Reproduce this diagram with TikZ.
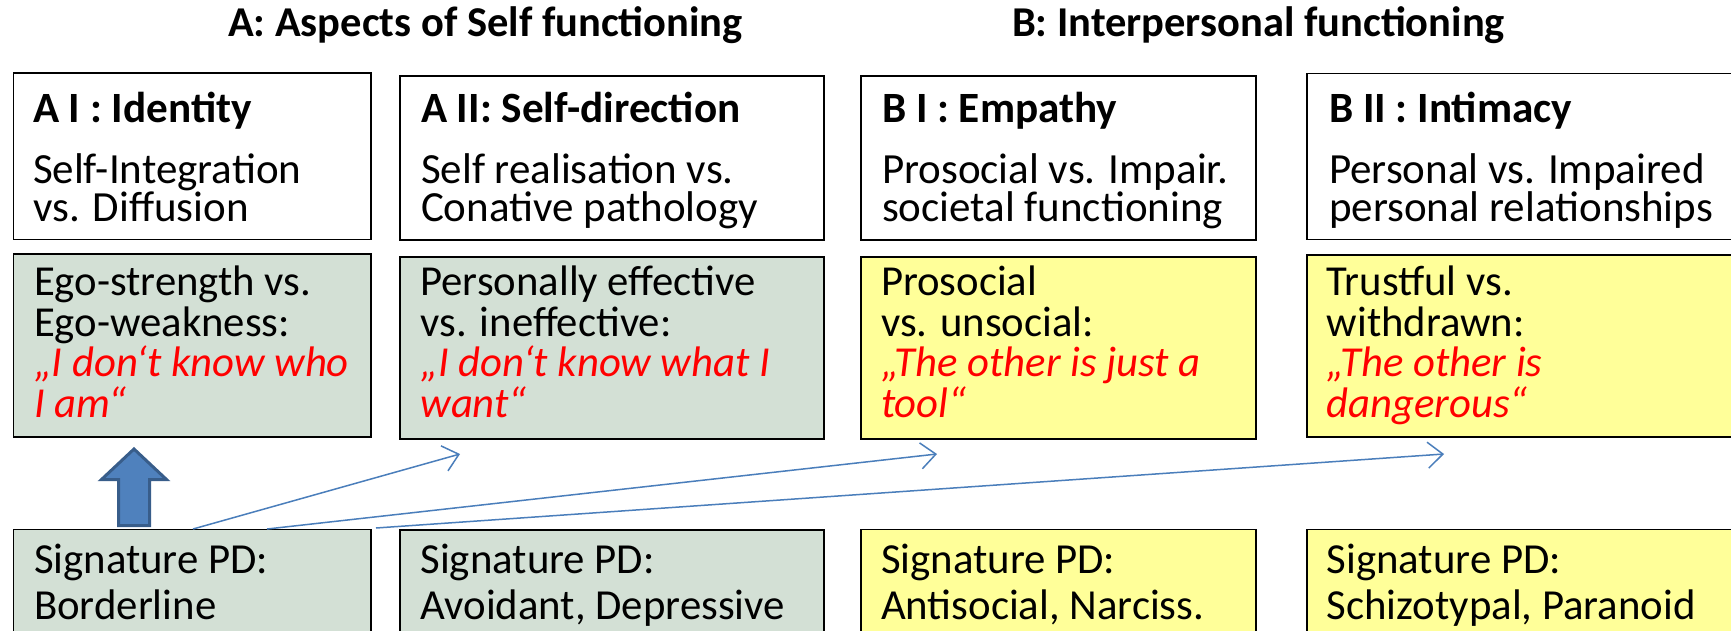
\documentclass[tikz,border=0pt]{standalone}
\usepackage{fontspec}
\setmainfont{Carlito}
\usetikzlibrary{arrows.meta}
\definecolor{boxgreen}{HTML}{D3E0D5}
\definecolor{boxyellow}{HTML}{FFFF99}
\definecolor{arrowfill}{HTML}{4F81BD}
\definecolor{arrowline}{HTML}{385D8A}
\definecolor{thinblue}{HTML}{4A7EBB}
\definecolor{quotered}{HTML}{FF0000}
\tikzset{
  box/.style={draw=black, line width=1.6, anchor=north west, inner sep=0, outer sep=0},
  whitebox/.style={box, fill=white},
  greenbox/.style={box, fill=boxgreen},
  yellowbox/.style={box, fill=boxyellow},
  txt/.style={anchor=base west, inner sep=0, outer sep=0},
  titletxt/.style={anchor=base, inner sep=0, font=\fontsize{42.5}{46}\selectfont\bfseries},
  headtxt/.style={txt, font=\fontsize{43.2}{46}\selectfont\bfseries},
  subtxt/.style={txt, font=\fontsize{43}{46}\selectfont},
  midtxt/.style={txt, font=\fontsize{42.7}{46}\selectfont},
  redtxt/.style={txt, font=\fontsize{42.7}{46}\selectfont\itshape, text=quotered},
  sigtxt/.style={txt, font=\fontsize{42.8}{46}\selectfont},
  thinarrow/.style={draw=thinblue, line width=1.5, -{Straight Barb[length=15,width=26,line width=1.5]}},
  bigarrow/.style={draw=arrowline, fill=arrowfill, line width=3, line join=miter}
}
\begin{document}
\begin{tikzpicture}[x=1pt,y=-1pt]
\path[use as bounding box, fill=white] (0,0) rectangle (1731,630);
\begin{scope}
\clip (0,0) rectangle (1731,630);
% titles
\node[titletxt] (ta) at (485.5,36.7) {A: Aspects of Self functioning};
\node[titletxt] (tb) at (1258.5,36.7) {B: Interpersonal functioning};
% row 1
\node[whitebox, minimum width=357.5, minimum height=166.5] (r1a1) at (13.5,73) {};
\node[whitebox, minimum width=424, minimum height=164] (r1a2) at (400,76) {};
\node[whitebox, minimum width=395, minimum height=164] (r1b1) at (861,76) {};
\node[whitebox, minimum width=450, minimum height=166] (r1b2) at (1307,73.5) {};
% row 2
\node[greenbox, minimum width=357.5, minimum height=182.5] (r2a1) at (13.5,254.2) {};
\node[greenbox, minimum width=424, minimum height=182.5] (r2a2) at (400,256.7) {};
\node[yellowbox, minimum width=395, minimum height=182.5] (r2b1) at (861,256.7) {};
\node[yellowbox, minimum width=450, minimum height=182] (r2b2) at (1307,255) {};
% row 3
\node[greenbox, minimum width=357.5, minimum height=140] (r3a1) at (13.5,529.3) {};
\node[greenbox, minimum width=424, minimum height=140] (r3a2) at (400,530) {};
\node[yellowbox, minimum width=395, minimum height=140] (r3b1) at (861,529.3) {};
\node[yellowbox, minimum width=450, minimum height=140] (r3b2) at (1307,529.3) {};
% row 1 texts
\node[headtxt] (h1) at (33,122.5) {A I : Identity};
\node[subtxt] (s1a) at (33,183.5) {Self-Integration};
\node[subtxt] (s1b) at (33,221) {vs. Diffusion};
\node[headtxt] (h2) at (421,122.5) {A II: Self-direction};
\node[subtxt] (s2a) at (421,183.5) {Self realisation vs.};
\node[subtxt] (s2b) at (421,221) {Conative pathology};
\node[headtxt] (h3) at (882,122.5) {B I : Empathy};
\node[subtxt] (s3a) at (882,183.5) {Prosocial vs. Impair.};
\node[subtxt] (s3b) at (882,221) {societal functioning};
\node[headtxt] (h4) at (1329,122.5) {B II : Intimacy};
\node[subtxt] (s4a) at (1329,183.5) {Personal vs. Impaired};
\node[subtxt] (s4b) at (1329,221) {personal relationships};
% row 2 texts
\node[midtxt] (m1a) at (34,295) {Ego-strength vs.};
\node[midtxt] (m1b) at (34,336) {Ego-weakness:};
\node[redtxt] (q1a) at (34,376.5) {„I don‘t know who};
\node[redtxt] (q1b) at (34,417) {I am“};
\node[midtxt] (m2a) at (420.5,295) {Personally effective};
\node[midtxt] (m2b) at (420.5,336) {vs. ineffective:};
\node[redtxt] (q2a) at (420.5,376.5) {„I don‘t know what I};
\node[redtxt] (q2b) at (420.5,417) {want“};
\node[midtxt] (m3a) at (881,295) {Prosocial};
\node[midtxt] (m3b) at (881,336) {vs. unsocial:};
\node[redtxt] (q3a) at (881,376.5) {„The other is just a};
\node[redtxt] (q3b) at (881,417) {tool“};
\node[midtxt] (m4a) at (1326.7,295) {Trustful vs.};
\node[midtxt] (m4b) at (1326.7,336) {withdrawn:};
\node[redtxt] (q4a) at (1326.7,376.5) {„The other is};
\node[redtxt] (q4b) at (1326.7,417) {dangerous“};
% row 3 texts
\node[sigtxt] (g1a) at (34,573.3) {Signature PD:};
\node[sigtxt] (g1b) at (34,619.3) {Borderline};
\node[sigtxt] (g2a) at (420.5,573.3) {Signature PD:};
\node[sigtxt] (g2b) at (420.5,619.3) {Avoidant, Depressive};
\node[sigtxt] (g3a) at (881,573.3) {Signature PD:};
\node[sigtxt] (g3b) at (881,619.3) {Antisocial, Narciss.};
\node[sigtxt] (g4a) at (1326.7,573.3) {Signature PD:};
\node[sigtxt] (g4b) at (1326.7,619.3) {Schizotypal, Paranoid};
% big block arrow from r3a1 up to r2a1
\draw[bigarrow] (134,449) -- (166.5,479.5) -- (149.5,479.5) -- (149.5,525.5)
  -- (118.5,525.5) -- (118.5,479.5) -- (101.5,479.5) -- cycle;
% thin arrows
\coordinate (st1) at (193,529);
\coordinate (st2) at (267,529);
\coordinate (st3) at (376,528);
\coordinate (en1) at (460,454);
\coordinate (en2) at (937,454);
\coordinate (en3) at (1444,454);
\draw[thinarrow] (st1) -- (en1);
\draw[thinarrow] (st2) -- (en2);
\draw[thinarrow] (st3) -- (en3);
\end{scope}
\end{tikzpicture}
\end{document}
